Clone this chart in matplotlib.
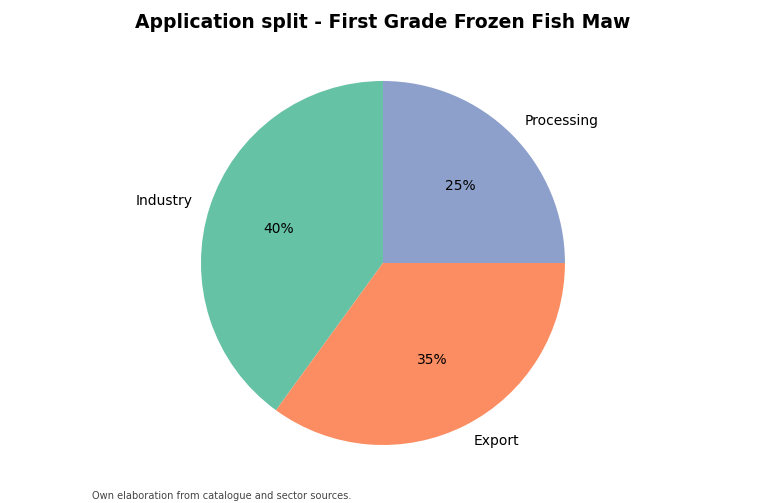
import matplotlib.pyplot as plt

# Shares by application
labels = ["Industry", "Export", "Processing"]
shares = [40, 35, 25]
colors = ["#66c2a5", "#fc8d62", "#8da0cb"]

fig = plt.figure(figsize=(7.65, 5.03), dpi=100)
ax = fig.add_axes([0.2627, 0.1153, 0.4758, 0.7237])
ax.pie(shares, labels=labels, colors=colors, autopct="%1.0f%%",
       startangle=90, counterclock=True,
       textprops={"fontsize": 10})
ax.set_xlim(-1, 1)
ax.set_ylim(-1, 1)
ax.set_aspect("equal")

fig.suptitle("Application split - First Grade Frozen Fish Maw",
             fontsize=13.5, fontweight="bold", y=0.975)
fig.text(0.12, 0.003, "Own elaboration from catalogue and sector sources.",
         fontsize=7.1, color="#444444", ha="left", va="bottom")

fig.savefig("out.png", dpi=100)
